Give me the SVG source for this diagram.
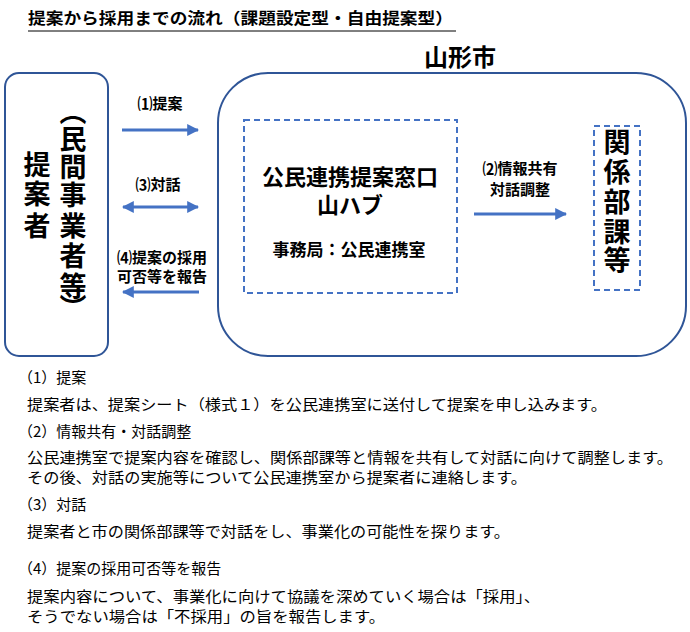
<svg xmlns="http://www.w3.org/2000/svg" width="690" height="632" viewBox="0 0 690 632">
<defs>
<marker id="ah" viewBox="0 0 10 10" refX="9" refY="5" markerWidth="4" markerHeight="4" orient="auto-start-reverse"><path d="M0,0 L10,5 L0,10 z" fill="#4472C4"/></marker>
</defs>
<style>
text{font-family:"Noto Sans CJK JP","Noto Sans",sans-serif;fill:#000}
.b{font-weight:bold}
.body{font-size:15px}
.lbl{font-size:15px;font-weight:bold;text-anchor:middle}
.line{stroke:#4472C4;stroke-width:3;fill:none}
.dash{stroke:#4472C4;stroke-width:2;fill:none;stroke-dasharray:6,4}
.big{font-size:27px;font-weight:bold;text-anchor:middle}
</style>
<rect width="690" height="632" fill="#fff"/>
<text x="28" y="24" class="b" font-size="16" textLength="425" lengthAdjust="spacingAndGlyphs">提案から採用までの流れ（課題設定型・自由提案型）</text>
<line x1="28" y1="31" x2="456" y2="31" stroke="#000" stroke-width="1"/>
<text x="460" y="66" class="b" font-size="24" text-anchor="middle">山形市</text>
<g id="proposer">
<rect x="5" y="73" width="103" height="283" rx="14" fill="none" stroke="#2F5597" stroke-width="2"/>
<text x="73" y="122" class="big">︵</text>
<text x="73" y="149" class="big">民</text>
<text x="73" y="177" class="big">間</text>
<text x="73" y="205" class="big">事</text>
<text x="73" y="236" class="big">業</text>
<text x="73" y="266" class="big">者</text>
<text x="73" y="296" class="big">等</text>
<text x="73" y="318" class="big">︶</text>
<text x="37" y="175" class="big">提</text>
<text x="37" y="204" class="big">案</text>
<text x="37" y="236" class="big">者</text>
</g>
<g id="city">
<rect x="218" y="73" width="468" height="283" rx="50" fill="none" stroke="#2F5597" stroke-width="2"/>
</g>
<g id="window">
<rect x="244" y="120" width="213" height="173" class="dash"/>
<text x="350" y="185" class="b" font-size="22" text-anchor="middle">公民連携提案窓口</text>
<text x="350" y="213" class="b" font-size="22" text-anchor="middle">山ハブ</text>
<text x="349" y="256" class="b" font-size="17" text-anchor="middle">事務局：公民連携室</text>
</g>
<g id="depts">
<rect x="594" y="126" width="46" height="164" class="dash"/>
<text x="617" y="152" class="big">関</text>
<text x="617" y="182" class="big">係</text>
<text x="617" y="212" class="big">部</text>
<text x="617" y="242" class="big">課</text>
<text x="617" y="270" class="big">等</text>
</g>
<g id="connectors">
<line x1="122" y1="130" x2="198" y2="130" class="line" marker-end="url(#ah)"/>
<line x1="123" y1="207" x2="198" y2="207" class="line" marker-start="url(#ah)" marker-end="url(#ah)"/>
<line x1="199" y1="292" x2="123" y2="292" class="line" marker-end="url(#ah)"/>
<line x1="474" y1="214" x2="566" y2="214" class="line" marker-end="url(#ah)"/>
<text x="160" y="109" class="lbl">⑴提案</text>
<text x="158" y="190" class="lbl">⑶対話</text>
<text x="162" y="263" class="lbl">⑷提案の採用</text>
<text x="162" y="282" class="lbl">可否等を報告</text>
<text x="520" y="174" class="lbl">⑵情報共有</text>
<text x="520" y="195" class="lbl">対話調整</text>
</g>
<g id="text">
<text x="18" y="383" class="body">（1）提案</text>
<text x="27" y="410" class="body" textLength="580" lengthAdjust="spacingAndGlyphs">提案者は、提案シート（様式１）を公民連携室に送付して提案を申し込みます。</text>
<text x="18" y="437" class="body">（2）情報共有・対話調整</text>
<text x="27" y="463" class="body" textLength="646" lengthAdjust="spacingAndGlyphs">公民連携室で提案内容を確認し、関係部課等と情報を共有して対話に向けて調整します。</text>
<text x="27" y="483" class="body" textLength="500" lengthAdjust="spacingAndGlyphs">その後、対話の実施等について公民連携室から提案者に連絡します。</text>
<text x="18" y="510" class="body">（3）対話</text>
<text x="27" y="537" class="body" textLength="483" lengthAdjust="spacingAndGlyphs">提案者と市の関係部課等で対話をし、事業化の可能性を探ります。</text>
<text x="18" y="574" class="body">（4）提案の採用可否等を報告</text>
<text x="27" y="602" class="body" textLength="513" lengthAdjust="spacingAndGlyphs">提案内容について、事業化に向けて協議を深めていく場合は「採用」、</text>
<text x="27" y="622" class="body" textLength="358" lengthAdjust="spacingAndGlyphs">そうでない場合は「不採用」の旨を報告します。</text>
</g>
</svg>
